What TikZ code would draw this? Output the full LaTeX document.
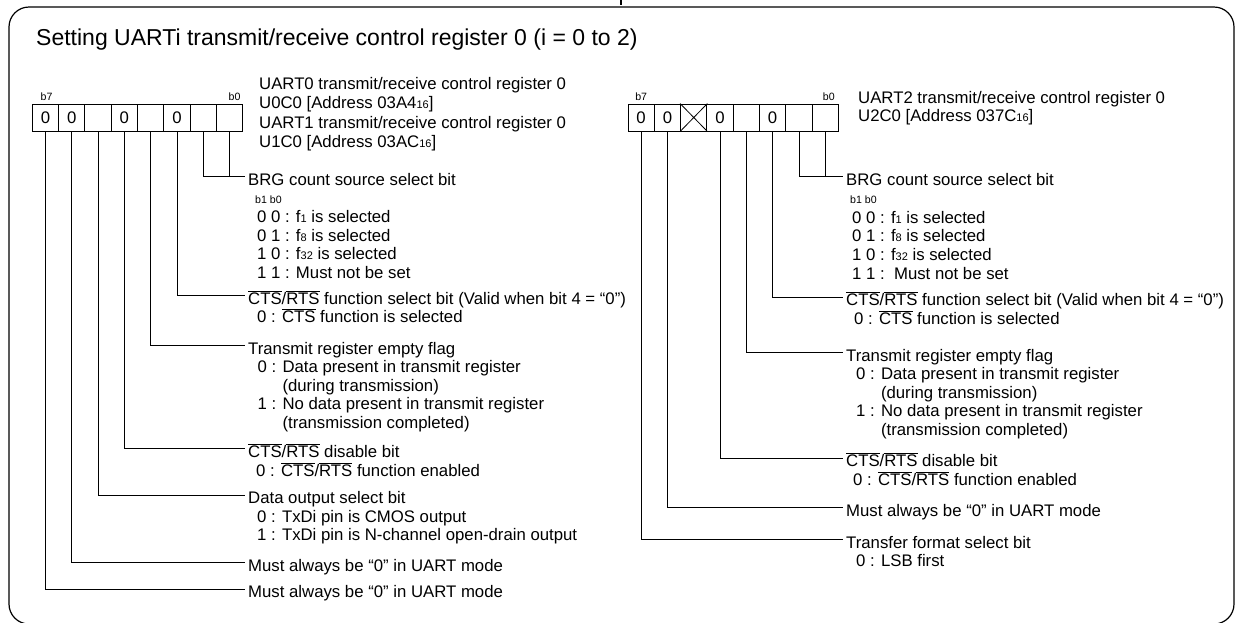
\documentclass[tikz,border=0pt]{standalone}
\usepackage{fontspec}
\setmainfont{Liberation Sans}
\newcommand{\ovl}[1]{\ensuremath{\overline{\mbox{#1}}}}
\newcommand{\subs}[1]{{\fontsize{11}{11}\selectfont #1}}
\tikzset{
  cell/.style={draw, line width=0.9pt, minimum width=26.3pt, minimum height=27pt,
    inner sep=0pt, font=\fontsize{16.75}{18}\selectfont},
  head/.style={anchor=base west, inner sep=0pt, font=\fontsize{16.75}{18}\selectfont},
  bitno/.style={inner sep=0pt, font=\fontsize{10.6}{12}\selectfont},
  lead/.style={line width=0.75pt},
}

\begin{document}
\begin{tikzpicture}[x=1pt, y=-1pt]
      \useasboundingbox (0,0) rectangle (1235,622);
      \draw[line width=1.2pt, rounded corners=20pt] (9,7) rectangle (1234,624);
      \draw[line width=2pt] (621,0) -- (621,5);

      \node[head, font=\fontsize{23}{26}\selectfont] (title) at (36,45)
        {Setting UARTi transmit/receive control register 0 (i = 0 to 2)};

      % UART0 / UART1 register
      \foreach \b/\v in {7/0,6/0,5/{},4/0,3/{},2/0,1/{},0/{}}
        \node[cell] (a\b) at ({45.45+(7-\b)*26.3},117.5) {\v};
      \node[bitno, anchor=base west] at ([shift={(-5pt,3pt)}]a7.north) {b7};
      \node[bitno, anchor=base east] at ([shift={(-2.5pt,3pt)}]a0.north east) {b0};

      \node[head] (u0name) at (259,89) {UART0 transmit/receive control register 0};
      \node[head] (u0addr) at ([yshift=-19.5pt]u0name.base west) {U0C0 [Address 03A4\subs{16}]};
      \node[head] (u1name) at ([yshift=-19.5pt]u0addr.base west) {UART1 transmit/receive control register 0};
      \node[head] (u1addr) at ([yshift=-19.5pt]u1name.base west) {U1C0 [Address 03AC\subs{16}]};

      \node[head] (abrg) at (248,185) {BRG count source select bit};
      \node[bitno, anchor=base west] (abrg0) at ([shift={(7pt,-18pt)}]abrg.base west) {b1 b0};
      \node[head] (abrg1) at ([shift={(2pt,-19.5pt)}]abrg0.base west) {0 0 : f\subs{1} is selected};
      \node[head] (abrg2) at ([yshift=-18.6pt]abrg1.base west) {0 1 : f\subs{8} is selected};
      \node[head] (abrg3) at ([yshift=-18.6pt]abrg2.base west) {1 0 : f\subs{32} is selected};
      \node[head] (abrg4) at ([yshift=-18.6pt]abrg3.base west) {1 1 : Must not be set};

      \node[head] (acts) at (248,304) {\ovl{CTS}/\ovl{RTS} function select bit (Valid when bit 4 = “0”)};
      \node[head] (acts1) at ([shift={(9pt,-18.6pt)}]acts.base west) {0 : \ovl{CTS} function is selected};

      \node[head] (atxe) at (248,354) {Transmit register empty flag};
      \node[head] (atxe1) at ([shift={(9.5pt,-18.6pt)}]atxe.base west) {0 : Data present in transmit register};
      \node[head] (atxe2) at ([yshift=-18.6pt]atxe1.base west) {\phantom{0 : }(during transmission)};
      \node[head] (atxe3) at ([yshift=-18.6pt]atxe2.base west) {1 : No data present in transmit register};
      \node[head] (atxe4) at ([yshift=-18.6pt]atxe3.base west) {\phantom{1 : }(transmission completed)};

      \node[head] (adis) at (248,457) {\ovl{CTS}/\ovl{RTS} disable bit};
      \node[head] (adis1) at ([shift={(8pt,-19pt)}]adis.base west) {0 : \ovl{CTS}/\ovl{RTS} function enabled};

      \node[head] (adout) at (248,503.7) {Data output select bit};
      \node[head] (adout1) at ([shift={(9pt,-18.6pt)}]adout.base west) {0 : TxDi pin is CMOS output};
      \node[head] (adout2) at ([yshift=-18.6pt]adout1.base west) {1 : TxDi pin is N-channel open-drain output};

      \node[head] (amust6) at (248,571) {Must always be “0” in UART mode};
      \node[head] (amust7) at (248,597.7) {Must always be “0” in UART mode};

      \foreach \c/\h in {a0/abrg, a1/abrg, a2/acts, a3/atxe, a4/adis, a5/adout, a6/amust6, a7/amust7}
        \draw[lead] (\c.south) |- ([shift={(-3pt,8.5pt)}]\h.base west);

      % UART2 register
      \foreach \b/\v in {7/0,6/0,5/{},4/0,3/{},2/0,1/{},0/{}}
        \node[cell] (c\b) at ({641.15+(7-\b)*26.3},117.5) {\v};
      \draw[line width=0.8pt] (c5.north west) -- (c5.south east) (c5.south west) -- (c5.north east);
      \node[bitno, anchor=base west] at ([shift={(-6pt,3pt)}]c7.north) {b7};
      \node[bitno, anchor=base east] at ([shift={(-4pt,3pt)}]c0.north east) {b0};

      \node[head] (u2name) at (858,103) {UART2 transmit/receive control register 0};
      \node[head] (u2addr) at ([yshift=-18.5pt]u2name.base west) {U2C0 [Address 037C\subs{16}]};

      \node[head] (cbrg) at (846,185.3) {BRG count source select bit};
      \node[bitno, anchor=base west] (cbrg0) at ([shift={(4pt,-18pt)}]cbrg.base west) {b1 b0};
      \node[head] (cbrg1) at ([shift={(2pt,-20pt)}]cbrg0.base west) {0 0 : f\subs{1} is selected};
      \node[head] (cbrg2) at ([yshift=-18.6pt]cbrg1.base west) {0 1 : f\subs{8} is selected};
      \node[head] (cbrg3) at ([yshift=-18.6pt]cbrg2.base west) {1 0 : f\subs{32} is selected};
      \node[head] (cbrg4) at ([yshift=-18.6pt]cbrg3.base west) {1 1 :\ \ Must not be set};

      \node[head] (ccts) at (846,305.5) {\ovl{CTS}/\ovl{RTS} function select bit (Valid when bit 4 = “0”)};
      \node[head] (ccts1) at ([shift={(8pt,-18.6pt)}]ccts.base west) {0 : \ovl{CTS} function is selected};

      \node[head] (ctxe) at (846,361) {Transmit register empty flag};
      \node[head] (ctxe1) at ([shift={(10pt,-18.6pt)}]ctxe.base west) {0 : Data present in transmit register};
      \node[head] (ctxe2) at ([yshift=-18.6pt]ctxe1.base west) {\phantom{0 : }(during transmission)};
      \node[head] (ctxe3) at ([yshift=-18.6pt]ctxe2.base west) {1 : No data present in transmit register};
      \node[head] (ctxe4) at ([yshift=-18.6pt]ctxe3.base west) {\phantom{1 : }(transmission completed)};

      \node[head] (cdis) at (846,466.7) {\ovl{CTS}/\ovl{RTS} disable bit};
      \node[head] (cdis1) at ([shift={(7pt,-18.6pt)}]cdis.base west) {0 : \ovl{CTS}/\ovl{RTS} function enabled};

      \node[head] (cmust) at (846,516) {Must always be “0” in UART mode};

      \node[head] (cfmt) at (846,548) {Transfer format select bit};
      \node[head] (cfmt1) at ([shift={(10pt,-18.7pt)}]cfmt.base west) {0 : LSB first};

      \foreach \c/\h in {c0/cbrg, c1/cbrg, c2/ccts, c3/ctxe, c4/cdis, c6/cmust, c7/cfmt}
        \draw[lead] (\c.south) |- ([shift={(-3pt,8.5pt)}]\h.base west);

    \end{tikzpicture}
\end{document}
